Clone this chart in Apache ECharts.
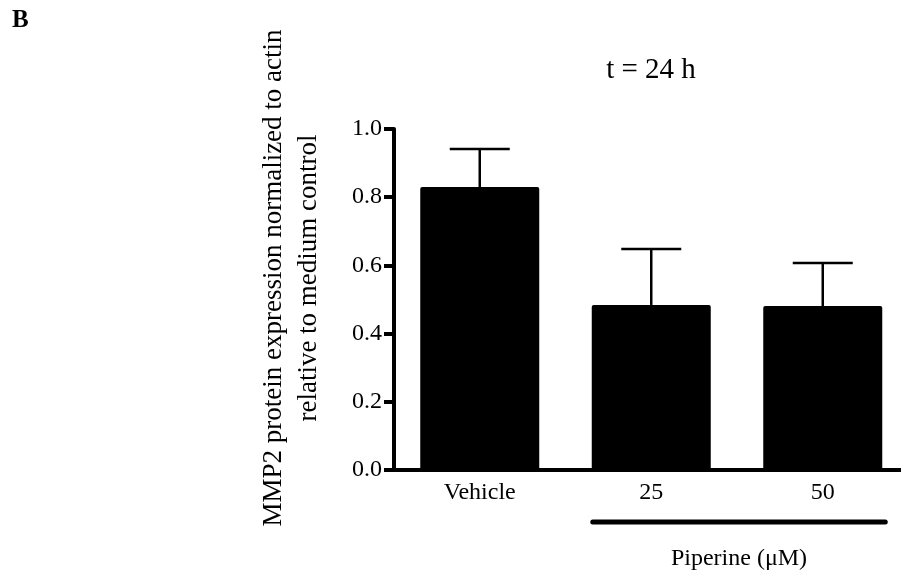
<!DOCTYPE html>
<html lang="en">
  <head>
    <meta charset="UTF-8" />
    <title>MMP2 t = 24 h</title>
    <script src="https://cdn.jsdelivr.net/npm/echarts@6/dist/echarts.min.js"></script>
    <style>
      html, body { margin: 0; padding: 0; background: #fff; }
      #box { width: 901px; height: 577px; }
    </style>
  </head>
  <body>
    <div id="box"></div>
    <script>
      // data
      var groups = ["Vehicle", "25", "50"];
      var means = [0.83, 0.484, 0.481];
      var sems = [0.111, 0.164, 0.126];
      var yTicks = [0, 0.2, 0.4, 0.6, 0.8, 1.0];

      var serif = "Liberation Serif";
      var barW = 119;

      var myChart = echarts.init(document.getElementById("box"));

      var errData = means.map(function (m, i) {
        return [i, m, m + sems[i]];
      });

      var option = {
        animation: false,
        grid: { left: 394, right: -120, top: 129, bottom: 107, outerBoundsMode: "none", containLabel: false },
        xAxis: {
          type: "category",
          data: groups,
          axisLine: { lineStyle: { color: "#000", width: 4 } },
          axisTick: { show: false },
          axisLabel: { color: "#000", fontFamily: serif, fontSize: 24, margin: 11 },
        },
        yAxis: {
          type: "value",
          min: yTicks[0],
          max: yTicks[yTicks.length - 1],
          interval: 0.2,
          splitLine: { show: false },
          axisLine: { show: true, lineStyle: { color: "#000", width: 4 } },
          axisTick: { show: true, length: 10, lineStyle: { color: "#000", width: 4 } },
          axisLabel: {
            color: "#000",
            fontFamily: serif,
            fontSize: 24,
            margin: 12,
            formatter: function (v) { return v.toFixed(1); },
          },
        },
        series: [
          {
            type: "bar",
            data: means,
            barWidth: barW,
            itemStyle: { color: "#000", borderRadius: [2, 2, 0, 0] },
            z: 3,
          },
          {
            type: "custom",
            data: errData,
            z: 2,
            renderItem: function (params, api) {
              var lo = api.coord([api.value(0), api.value(1)]);
              var hi = api.coord([api.value(0), api.value(2)]);
              var half = 30;
              var st = { stroke: "#000", lineWidth: 2.5 };
              return {
                type: "group",
                children: [
                  { type: "line", shape: { x1: lo[0], y1: lo[1], x2: hi[0], y2: hi[1] }, style: st },
                  { type: "line", shape: { x1: hi[0] - half, y1: hi[1], x2: hi[0] + half, y2: hi[1] }, style: st },
                ],
              };
            },
          },
        ],
      };
      myChart.setOption(option);

      // check band width; reference bands are ~171.5 px wide
      var c0 = myChart.convertToPixel({ gridIndex: 0 }, [0, 0])[0];
      var c1 = myChart.convertToPixel({ gridIndex: 0 }, [1, 0])[0];
      var band = c1 - c0;
      var want = 171.5;
      if (Math.abs(band - want) > 0.5) {
        var curRight = option.grid.right;
        var curW = band * groups.length;
        option.grid.right = curRight + (curW - want * groups.length);
        myChart.setOption({ grid: option.grid });
      }

      // piperine bracket under the two dose groups
      var p1 = myChart.convertToPixel({ gridIndex: 0 }, [1, 0]);
      var p2 = myChart.convertToPixel({ gridIndex: 0 }, [2, 0]);
      var x1 = p1[0] - barW / 2 + 1;
      var x2 = p2[0] + barW / 2 + 3;

      myChart.setOption({
        graphic: [
          {
            type: "text",
            left: 12,
            top: 8,
            style: { text: "B", font: "bold 25px " + serif, fill: "#000" },
          },
          {
            type: "text",
            x: 651,
            y: 70,
            style: {
              text: "t = 24 h",
              font: "29px " + serif,
              fill: "#000",
              align: "center",
              verticalAlign: "middle",
            },
          },
          {
            type: "text",
            x: 291,
            y: 278,
            rotation: Math.PI / 2,
            style: {
              text: "MMP2 protein expression normalized to actin\nrelative to medium control",
              font: "27px " + serif,
              lineHeight: 35,
              fill: "#000",
              align: "center",
              verticalAlign: "middle",
            },
          },
          {
            type: "line",
            shape: { x1: x1, y1: 522, x2: x2, y2: 522 },
            style: { stroke: "#000", lineWidth: 5, lineCap: "round" },
          },
          {
            type: "text",
            x: (x1 + x2) / 2,
            y: 559,
            style: {
              text: "Piperine (\u03bcM)",
              font: "24px " + serif,
              fill: "#000",
              align: "center",
              verticalAlign: "middle",
            },
          },
        ],
      });
    </script>
  </body>
</html>
